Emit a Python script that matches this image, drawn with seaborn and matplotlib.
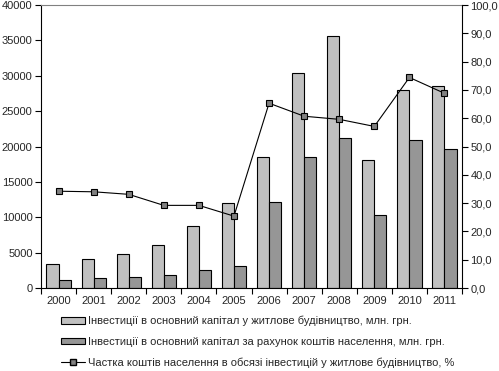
import numpy as np
import pandas as pd
import seaborn as sns
import matplotlib.pyplot as plt
from matplotlib.ticker import FuncFormatter, FixedLocator
from matplotlib.patches import Patch
from matplotlib.lines import Line2D

# Data
years = [2000, 2001, 2002, 2003, 2004, 2005, 2006, 2007, 2008, 2009, 2010, 2011]
invest_total = [3350, 4050, 4760, 6120, 8720, 11970, 18470, 30340, 35620, 18050, 27990, 28550]
invest_population = [1130, 1410, 1510, 1790, 2500, 3060, 12110, 18470, 21160, 10270, 20880, 19650]
share_pct = [34.2, 34.0, 33.1, 29.2, 29.2, 25.4, 65.3, 60.7, 59.6, 57.1, 74.4, 68.8]

label_total = "Інвестиції в основний капітал у житлове будівництво, млн. грн."
label_pop = "Інвестиції в основний капітал за рахунок коштів населення, млн. грн."
label_share = "Частка коштів населення в обсязі інвестицій у житлове будівництво, %"

sns.set_style("white")
plt.rcParams['font.family'] = ['Liberation Sans', 'DejaVu Sans']
plt.rcParams['font.size'] = 8

df = pd.DataFrame({
    "year": [str(y) for y in years] * 2,
    "value": invest_total + invest_population,
    "series": [label_total] * len(years) + [label_pop] * len(years),
})

fig = plt.figure(figsize=(4.99, 3.71), dpi=100)
ax = fig.add_axes([0.0822, 0.2237, 0.8437, 0.7628])

palette = {label_total: "#c0c0c0", label_pop: "#969696"}
sns.barplot(data=df, x="year", y="value", hue="series", palette=palette,
            width=0.69, gap=0, edgecolor="black", linewidth=0.8,
            saturation=1, legend=False, ax=ax)

ax.set_xlim(-0.5, len(years) - 0.5)
ax.set_ylim(0, 40000)
ax.set_yticks(np.arange(0, 40001, 5000))
ax.set_xlabel("")
ax.set_ylabel("")

# category boundary ticks with labels centred between them
ax.xaxis.set_major_locator(FixedLocator(np.arange(-0.5, len(years), 1.0)))
ax.xaxis.set_major_formatter(FuncFormatter(lambda v, p: ""))
ax.xaxis.set_minor_locator(FixedLocator(np.arange(len(years))))
ax.set_xticklabels([str(y) for y in years], minor=True)
ax.tick_params(axis="x", which="major", direction="out", length=4, width=0.8, color="black", bottom=True)
ax.tick_params(axis="x", which="minor", length=0, pad=6, labelsize=8)
ax.tick_params(axis="y", direction="out", length=4, width=0.8, color="black", left=True, labelsize=8, pad=2)

for s in ["left", "bottom"]:
    ax.spines[s].set_color("black")
    ax.spines[s].set_linewidth(0.8)
ax.spines["top"].set_color("#808080")
ax.spines["top"].set_linewidth(0.8)
ax.spines["right"].set_visible(False)

# Share line on the secondary axis
ax2 = ax.twinx()
ax2.plot(np.arange(len(years)), share_pct, color="black", linewidth=0.8,
         marker="s", markersize=4.5, markerfacecolor="#808080", markeredgecolor="black",
         markeredgewidth=0.8)
ax2.set_ylim(0, 100)
ax2.set_yticks(np.arange(0, 101, 10))
ax2.yaxis.set_major_formatter(FuncFormatter(lambda v, p: f"{v:.1f}".replace(".", ",")))
ax2.tick_params(axis="y", direction="out", length=4, width=0.8, color="black", right=True, labelsize=8, pad=2)
for s in ["left", "top", "bottom"]:
    ax2.spines[s].set_visible(False)
ax2.spines["right"].set_color("black")
ax2.spines["right"].set_linewidth(0.8)

handles = [
    Patch(facecolor="#c0c0c0", edgecolor="black", linewidth=0.8),
    Patch(facecolor="#969696", edgecolor="black", linewidth=0.8),
    Line2D([0], [0], color="black", linewidth=0.8, marker="s", markersize=4,
           markerfacecolor="#808080", markeredgecolor="black"),
]
fig.legend(handles, [label_total, label_pop, label_share], loc="upper left",
           bbox_to_anchor=(0.122, 0.1485), frameon=False, fontsize=8,
           handlelength=2.2, handleheight=0.55, handletextpad=0.2,
           labelspacing=0.95, borderpad=0, borderaxespad=0)

fig.savefig("out.png", dpi=100)
